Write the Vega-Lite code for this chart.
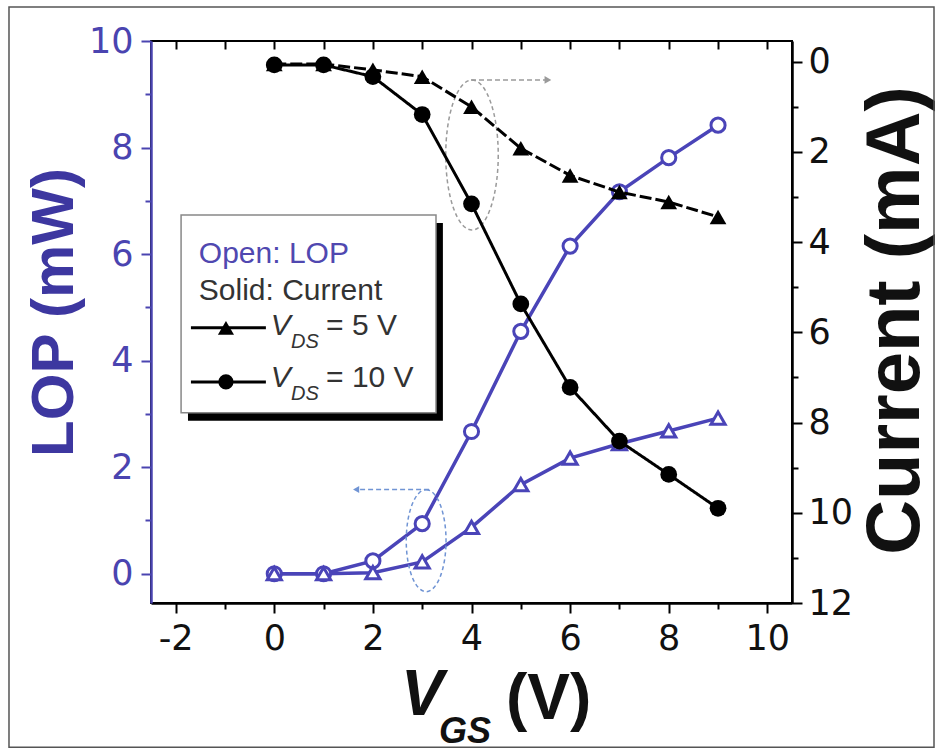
{
  "$schema": "https://vega.github.io/schema/vega-lite/v6.json",
  "width": 641,
  "height": 562,
  "autosize": {"type": "none"},
  "padding": {"left": 151, "top": 41, "right": 148, "bottom": 151},
  "background": "white",
  "config": {
    "view": {"stroke": "#000", "strokeWidth": 2},
    "font": "Liberation Sans",
    "axis": {"grid": false, "labelFont": "DejaVu Sans", "titleFont": "Liberation Sans"}
  },
  "datasets": {
    "lop": [
      {"vgs": 0, "vds": "10 V", "lop": 0.0},
      {"vgs": 1, "vds": "10 V", "lop": 0.0},
      {"vgs": 2, "vds": "10 V", "lop": 0.24},
      {"vgs": 3, "vds": "10 V", "lop": 0.94},
      {"vgs": 4, "vds": "10 V", "lop": 2.67},
      {"vgs": 5, "vds": "10 V", "lop": 4.55},
      {"vgs": 6, "vds": "10 V", "lop": 6.15},
      {"vgs": 7, "vds": "10 V", "lop": 7.17},
      {"vgs": 8, "vds": "10 V", "lop": 7.81},
      {"vgs": 9, "vds": "10 V", "lop": 8.42},
      {"vgs": 0, "vds": "5 V", "lop": 0.0},
      {"vgs": 1, "vds": "5 V", "lop": 0.0},
      {"vgs": 2, "vds": "5 V", "lop": 0.02},
      {"vgs": 3, "vds": "5 V", "lop": 0.22},
      {"vgs": 4, "vds": "5 V", "lop": 0.87},
      {"vgs": 5, "vds": "5 V", "lop": 1.67},
      {"vgs": 6, "vds": "5 V", "lop": 2.17},
      {"vgs": 7, "vds": "5 V", "lop": 2.44},
      {"vgs": 8, "vds": "5 V", "lop": 2.68},
      {"vgs": 9, "vds": "5 V", "lop": 2.92}
    ],
    "current": [
      {"vgs": 0, "vds": "5 V", "current": 0.05},
      {"vgs": 1, "vds": "5 V", "current": 0.05},
      {"vgs": 2, "vds": "5 V", "current": 0.18},
      {"vgs": 3, "vds": "5 V", "current": 0.33},
      {"vgs": 4, "vds": "5 V", "current": 1.0},
      {"vgs": 5, "vds": "5 V", "current": 1.92},
      {"vgs": 6, "vds": "5 V", "current": 2.52},
      {"vgs": 7, "vds": "5 V", "current": 2.89},
      {"vgs": 8, "vds": "5 V", "current": 3.11},
      {"vgs": 9, "vds": "5 V", "current": 3.44},
      {"vgs": 0, "vds": "10 V", "current": 0.07},
      {"vgs": 1, "vds": "10 V", "current": 0.07},
      {"vgs": 2, "vds": "10 V", "current": 0.33},
      {"vgs": 3, "vds": "10 V", "current": 1.17},
      {"vgs": 4, "vds": "10 V", "current": 3.15},
      {"vgs": 5, "vds": "10 V", "current": 5.37},
      {"vgs": 6, "vds": "10 V", "current": 7.22},
      {"vgs": 7, "vds": "10 V", "current": 8.41},
      {"vgs": 8, "vds": "10 V", "current": 9.15},
      {"vgs": 9, "vds": "10 V", "current": 9.9}
    ]
  },
  "layer": [
    {
      "layer": [
        {
          "data": {"name": "lop"},
          "mark": {"type": "line", "color": "#4a44b8", "strokeWidth": 3.5},
          "encoding": {
            "x": {"field": "vgs", "type": "quantitative",
              "scale": {"domain": [-2.5, 10.5], "nice": false, "zero": false},
              "axis": {"title": null, "values": [-2,-1,0,1,2,3,4,5,6,7,8,9,10],
                "labelExpr": "datum.value % 2 == 0 ? '' + datum.value : ''",
                "tickSize": {"condition": {"test": "datum.value % 2 != 0", "value": 6}, "value": 10},
                "tickWidth": 2, "tickColor": "#000", "domainColor": "#000", "domainWidth": 2.5,
                "labelFontSize": 35, "labelColor": "#111", "labelPadding": 8, "labelOverlap": false, "labelFlush": false}},
            "y": {"field": "lop", "type": "quantitative",
              "scale": {"domain": [-0.55, 10], "nice": false, "zero": false},
              "axis": {"title": "LOP (mW)", "values": [0,1,2,3,4,5,6,7,8,9,10],
                "labelExpr": "datum.value % 2 == 0 ? '' + datum.value : ''",
                "tickSize": {"condition": {"test": "datum.value % 2 != 0", "value": 6}, "value": 10},
                "tickWidth": 2, "tickColor": "#4a44b0", "domainColor": "#4a44b0", "domainWidth": 2.5,
                "labelFontSize": 35, "labelColor": "#4a44b0", "labelPadding": 8, "labelOverlap": false, "labelFlush": false,
                "titleFontSize": 60, "titleFontWeight": "bold", "titleColor": "#3d37a0",
                "titleAngle": 270, "titleX": -79, "titleY": 271, "titleAlign": "center", "titleBaseline": "alphabetic"}},
            "detail": {"field": "vds"}
          }
        },
        {
          "data": {"name": "lop"},
          "mark": {"type": "point", "filled": true, "fill": "white", "stroke": "#4a44b8", "strokeWidth": 3, "size": 200, "opacity": 1},
          "encoding": {
            "x": {"field": "vgs", "type": "quantitative"},
            "y": {"field": "lop", "type": "quantitative"},
            "shape": {"field": "vds", "type": "nominal", "scale": {"domain": ["5 V", "10 V"], "range": ["triangle-up", "circle"]}, "legend": null}
          }
        },
        {
          "data": {"values": [{}]},
          "mark": {"type": "rect", "fillOpacity": 0, "stroke": "#555", "strokeWidth": 1.5},
          "encoding": {
            "x": {"datum": -5.38, "type": "quantitative"},
            "x2": {"datum": 13.38},
            "y": {"datum": 10.64, "type": "quantitative"},
            "y2": {"datum": -3.26}
          }
        },
        {
          "data": {"values": [{}]},
          "mark": {"type": "rect", "fill": "#000"},
          "encoding": {
            "x": {"datum": -1.75, "type": "quantitative"},
            "x2": {"datum": 3.42},
            "y": {"datum": 6.585, "type": "quantitative"},
            "y2": {"datum": 2.87}
          }
        },
        {
          "data": {"values": [{}]},
          "mark": {"type": "rect", "fill": "white", "stroke": "#888", "strokeWidth": 1.5},
          "encoding": {
            "x": {"datum": -1.89, "type": "quantitative"},
            "x2": {"datum": 3.28},
            "y": {"datum": 6.735, "type": "quantitative"},
            "y2": {"datum": 3.02}
          }
        },
        {
          "data": {"values": [{}]},
          "mark": {"type": "text", "text": "Open: LOP", "align": "left", "baseline": "alphabetic", "fontSize": 30, "color": "#5048b0"},
          "encoding": {
            "x": {"datum": -1.53, "type": "quantitative"},
            "y": {"datum": 5.835, "type": "quantitative"}
          }
        },
        {
          "data": {"values": [{}]},
          "mark": {"type": "text", "text": "Solid: Current", "align": "left", "baseline": "alphabetic", "fontSize": 30, "color": "#333"},
          "encoding": {
            "x": {"datum": -1.53, "type": "quantitative"},
            "y": {"datum": 5.14, "type": "quantitative"}
          }
        },
        {
          "data": {"values": [{}]},
          "mark": {"type": "rule", "color": "#000", "strokeWidth": 3},
          "encoding": {
            "x": {"datum": -1.69, "type": "quantitative"},
            "x2": {"datum": -0.17},
            "y": {"datum": 4.615, "type": "quantitative"}
          }
        },
        {
          "data": {"values": [{}]},
          "mark": {"type": "point", "shape": "triangle-up", "filled": true, "color": "#000", "size": 260, "opacity": 1},
          "encoding": {
            "x": {"datum": -0.98, "type": "quantitative"},
            "y": {"datum": 4.615, "type": "quantitative"}
          }
        },
        {
          "data": {"values": [{}]},
          "mark": {"type": "rule", "color": "#000", "strokeWidth": 3},
          "encoding": {
            "x": {"datum": -1.69, "type": "quantitative"},
            "x2": {"datum": -0.17},
            "y": {"datum": 3.6, "type": "quantitative"}
          }
        },
        {
          "data": {"values": [{}]},
          "mark": {"type": "point", "shape": "circle", "filled": true, "color": "#000", "size": 230, "opacity": 1},
          "encoding": {
            "x": {"datum": -0.98, "type": "quantitative"},
            "y": {"datum": 3.6, "type": "quantitative"}
          }
        },
        {
          "data": {"values": [{}]},
          "mark": {"type": "text", "text": "V", "align": "left", "baseline": "alphabetic", "fontSize": 30, "fontStyle": "italic", "color": "#333"},
          "encoding": {
            "x": {"datum": -0.07, "type": "quantitative"},
            "y": {"datum": 4.48, "type": "quantitative"}
          }
        },
        {
          "data": {"values": [{}]},
          "mark": {"type": "text", "text": "DS", "align": "left", "baseline": "alphabetic", "fontSize": 20, "fontStyle": "italic", "color": "#333"},
          "encoding": {
            "x": {"datum": 0.34, "type": "quantitative"},
            "y": {"datum": 4.24, "type": "quantitative"}
          }
        },
        {
          "data": {"values": [{}]},
          "mark": {"type": "text", "text": "= 5 V", "align": "left", "baseline": "alphabetic", "fontSize": 30, "color": "#333"},
          "encoding": {
            "x": {"datum": 1.05, "type": "quantitative"},
            "y": {"datum": 4.48, "type": "quantitative"}
          }
        },
        {
          "data": {"values": [{}]},
          "mark": {"type": "text", "text": "V", "align": "left", "baseline": "alphabetic", "fontSize": 30, "fontStyle": "italic", "color": "#333"},
          "encoding": {
            "x": {"datum": -0.07, "type": "quantitative"},
            "y": {"datum": 3.51, "type": "quantitative"}
          }
        },
        {
          "data": {"values": [{}]},
          "mark": {"type": "text", "text": "DS", "align": "left", "baseline": "alphabetic", "fontSize": 20, "fontStyle": "italic", "color": "#333"},
          "encoding": {
            "x": {"datum": 0.34, "type": "quantitative"},
            "y": {"datum": 3.26, "type": "quantitative"}
          }
        },
        {
          "data": {"values": [{}]},
          "mark": {"type": "text", "text": "= 10 V", "align": "left", "baseline": "alphabetic", "fontSize": 30, "color": "#333"},
          "encoding": {
            "x": {"datum": 1.05, "type": "quantitative"},
            "y": {"datum": 3.51, "type": "quantitative"}
          }
        },
        {
          "data": {"values": [{}]},
          "mark": {"type": "point", "shape": "M0,-1A0.39,1 0 1,1 0,1A0.39,1 0 1,1 0,-1Z", "filled": false, "stroke": "#7094d4", "strokeWidth": 1.5, "strokeDash": [4, 3], "size": 10404, "opacity": 1},
          "encoding": {
            "x": {"datum": 3.08, "type": "quantitative"},
            "y": {"datum": 0.62, "type": "quantitative"}
          }
        },
        {
          "data": {"values": [{}]},
          "mark": {"type": "point", "shape": "M0,-1A0.35,1 0 1,1 0,1A0.35,1 0 1,1 0,-1Z", "filled": false, "stroke": "#9a9a9a", "strokeWidth": 1.5, "strokeDash": [4, 3], "size": 22500, "opacity": 1},
          "encoding": {
            "x": {"datum": 4.01, "type": "quantitative"},
            "y": {"datum": 7.86, "type": "quantitative"}
          }
        },
        {
          "data": {"values": [{}]},
          "mark": {"type": "rule", "color": "#9a9a9a", "strokeWidth": 1.5, "strokeDash": [5, 3]},
          "encoding": {
            "x": {"datum": 3.99, "type": "quantitative"},
            "x2": {"datum": 5.5},
            "y": {"datum": 9.27, "type": "quantitative"}
          }
        },
        {
          "data": {"values": [{}]},
          "mark": {"type": "point", "shape": "triangle-right", "filled": true, "color": "#9a9a9a", "size": 60, "opacity": 1},
          "encoding": {
            "x": {"datum": 5.55, "type": "quantitative"},
            "y": {"datum": 9.27, "type": "quantitative"}
          }
        },
        {
          "data": {"values": [{}]},
          "mark": {"type": "rule", "color": "#7094d4", "strokeWidth": 1.5, "strokeDash": [5, 3]},
          "encoding": {
            "x": {"datum": 3.14, "type": "quantitative"},
            "x2": {"datum": 1.72},
            "y": {"datum": 1.58, "type": "quantitative"}
          }
        },
        {
          "data": {"values": [{}]},
          "mark": {"type": "point", "shape": "triangle-left", "filled": true, "color": "#7094d4", "size": 50, "opacity": 1},
          "encoding": {
            "x": {"datum": 1.66, "type": "quantitative"},
            "y": {"datum": 1.58, "type": "quantitative"}
          }
        },
        {
          "data": {"values": [{}]},
          "mark": {"type": "text", "text": "V", "align": "left", "baseline": "alphabetic", "fontSize": 64, "fontStyle": "italic", "fontWeight": "bold", "color": "#111"},
          "encoding": {
            "x": {"datum": 2.57, "type": "quantitative"},
            "y": {"datum": -2.66, "type": "quantitative"}
          }
        },
        {
          "data": {"values": [{}]},
          "mark": {"type": "text", "text": "GS", "align": "left", "baseline": "alphabetic", "fontSize": 36, "fontStyle": "italic", "fontWeight": "bold", "color": "#111"},
          "encoding": {
            "x": {"datum": 3.34, "type": "quantitative"},
            "y": {"datum": -3.17, "type": "quantitative"}
          }
        },
        {
          "data": {"values": [{}]},
          "mark": {"type": "text", "text": "(V)", "align": "left", "baseline": "alphabetic", "fontSize": 64, "fontWeight": "bold", "color": "#111"},
          "encoding": {
            "x": {"datum": 4.7, "type": "quantitative"},
            "y": {"datum": -2.72, "type": "quantitative"}
          }
        }
      ]
    },
    {
      "data": {"name": "current"},
      "layer": [
        {
          "mark": {"type": "line", "color": "#000", "strokeWidth": 3},
          "encoding": {
            "x": {"field": "vgs", "type": "quantitative",
              "scale": {"domain": [-2.5, 10.5], "nice": false, "zero": false},
              "axis": {"orient": "top", "labels": false, "title": null, "domain": false,
                "values": [-2,-1,0,1,2,3,4,5,6,7,8,9,10], "tickSize": -8, "tickWidth": 2, "tickColor": "#000"}},
            "y": {"field": "current", "type": "quantitative",
              "scale": {"domain": [-0.46, 12], "nice": false, "zero": false, "reverse": true},
              "axis": {"orient": "right", "title": "Current (mA)", "values": [0,1,2,3,4,5,6,7,8,9,10,11,12],
                "labelExpr": "datum.value % 2 == 0 ? '' + datum.value : ''",
                "tickSize": {"condition": {"test": "datum.value % 2 != 0", "value": 6}, "value": 10},
                "tickWidth": 2, "tickColor": "#000", "domainColor": "#000", "domainWidth": 2.5,
                "labelFontSize": 35, "labelColor": "#111", "labelPadding": 6, "labelOverlap": false, "labelFlush": false,
                "titleFontSize": 76, "titleFontWeight": "bold", "titleColor": "#111",
                "titleAngle": 270, "titleX": 126, "titleY": 279, "titleAlign": "center", "titleBaseline": "alphabetic"}},
            "strokeDash": {"field": "vds", "type": "nominal", "scale": {"domain": ["5 V", "10 V"], "range": [[12, 4], [1, 0]]}, "legend": null}
          }
        },
        {
          "mark": {"type": "point", "filled": true, "color": "#000", "size": 280, "opacity": 1},
          "encoding": {
            "x": {"field": "vgs", "type": "quantitative"},
            "y": {"field": "current", "type": "quantitative"},
            "shape": {"field": "vds", "type": "nominal", "scale": {"domain": ["5 V", "10 V"], "range": ["triangle-up", "circle"]}, "legend": null}
          }
        }
      ]
    }
  ],
  "resolve": {"scale": {"x": "independent", "y": "independent"}, "axis": {"x": "independent", "y": "independent"}}
}
